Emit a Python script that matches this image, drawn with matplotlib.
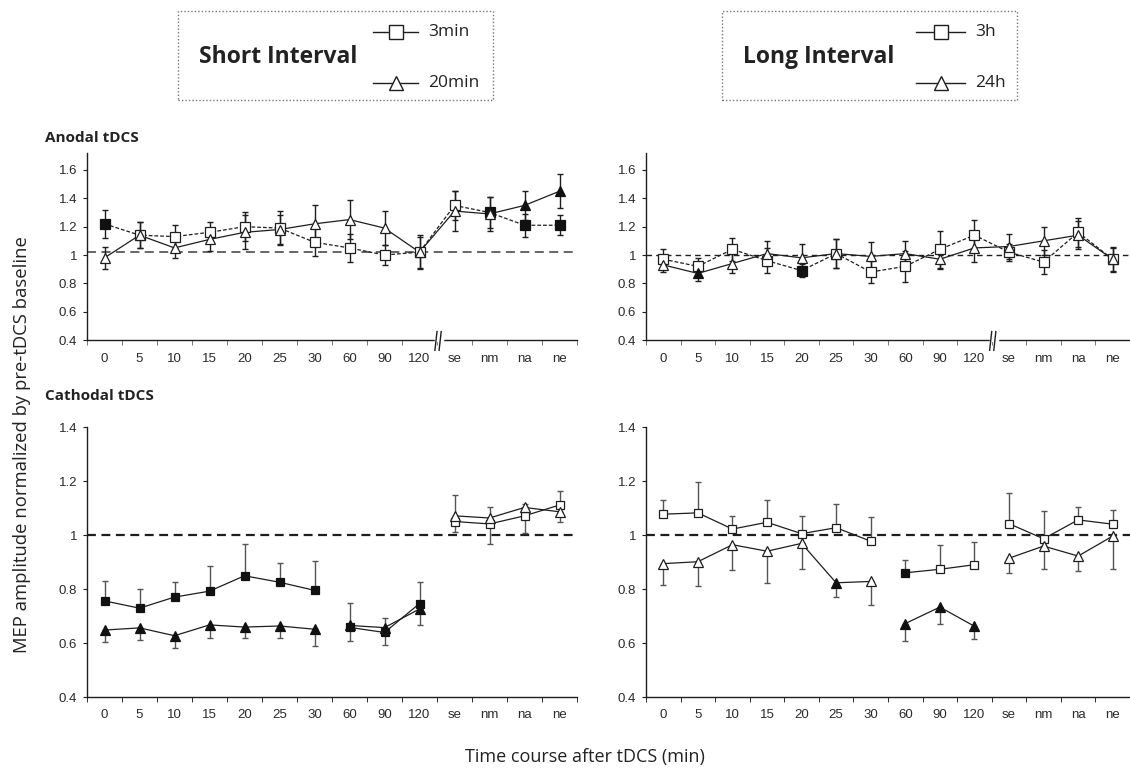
import numpy as np
import matplotlib
matplotlib.use('Agg')
import matplotlib.pyplot as plt
from matplotlib.patches import Rectangle
from matplotlib.lines import Line2D

plt.rcParams['font.family'] = ['Liberation Sans', 'DejaVu Sans']

W, H = 1130, 769

categories = ['0', '5', '10', '15', '20', '25', '30', '60', '90', '120', 'se', 'nm', 'na', 'ne']

# --- anodal, short interval (3min = squares, 20min = triangles)
al_sq = [1.22, 1.14, 1.13, 1.16, 1.20, 1.19, 1.09, 1.05, 1.00, 1.02, 1.35, 1.30, 1.21, 1.21]
al_sq_err = [0.10, 0.09, 0.08, 0.07, 0.10, 0.12, 0.10, 0.10, 0.07, 0.12, 0.10, 0.11, 0.08, 0.07]
al_sq_fill = [1, 0, 0, 0, 0, 0, 0, 0, 0, 0, 0, 1, 1, 1]
al_tri = [0.98, 1.14, 1.05, 1.11, 1.16, 1.18, 1.22, 1.25, 1.19, 1.02, 1.31, 1.29, 1.35, 1.45]
al_tri_err = [0.08, 0.09, 0.07, 0.08, 0.12, 0.10, 0.13, 0.14, 0.12, 0.11, 0.14, 0.12, 0.10, 0.12]
al_tri_fill = [0, 0, 0, 0, 0, 0, 0, 0, 0, 0, 0, 0, 1, 1]

# --- anodal, long interval (3h = squares, 24h = triangles)
ar_sq = [0.97, 0.92, 1.04, 0.96, 0.89, 1.01, 0.88, 0.92, 1.04, 1.14, 1.02, 0.95, 1.16, 0.97]
ar_sq_err = [0.07, 0.06, 0.08, 0.09, 0.045, 0.10, 0.08, 0.11, 0.13, 0.11, 0.06, 0.085, 0.10, 0.08]
ar_sq_fill = [0, 0, 0, 0, 1, 0, 0, 0, 0, 0, 0, 0, 0, 0]
ar_tri = [0.93, 0.87, 0.94, 1.01, 0.98, 1.01, 0.99, 1.01, 0.97, 1.05, 1.06, 1.10, 1.14, 0.97]
ar_tri_err = [0.05, 0.05, 0.07, 0.09, 0.10, 0.10, 0.10, 0.09, 0.07, 0.10, 0.09, 0.10, 0.10, 0.09]
ar_tri_fill = [0, 1, 0, 0, 0, 0, 0, 0, 0, 0, 0, 0, 0, 0]

# --- cathodal, short interval
cl_sq = [0.756, 0.729, 0.770, 0.792, 0.849, 0.825, 0.795, 0.658, 0.639, 0.746, 1.050, 1.041, 1.071, 1.111]
cl_sq_up = [0.074, 0.071, 0.056, 0.095, 0.117, 0.070, 0.109, 0.090, 0.053, 0.080, 0, 0, 0, 0.052]
cl_sq_dn = [0, 0, 0, 0, 0, 0, 0, 0, 0, 0, 0.039, 0.076, 0.064, 0]
cl_sq_fill = [1, 1, 1, 1, 1, 1, 1, 1, 1, 1, 0, 0, 0, 0]
cl_tri = [0.648, 0.656, 0.627, 0.667, 0.659, 0.663, 0.651, 0.665, 0.657, 0.726, 1.071, 1.063, 1.102, 1.086]
cl_tri_up = [0, 0, 0, 0, 0, 0, 0, 0, 0, 0, 0.077, 0.041, 0.014, 0]
cl_tri_dn = [0.046, 0.045, 0.044, 0.050, 0.042, 0.044, 0.063, 0.058, 0.065, 0.058, 0, 0, 0, 0.039]
cl_tri_fill = [1, 1, 1, 1, 1, 1, 1, 1, 1, 1, 0, 0, 0, 0]

# --- cathodal, long interval
cr_sq = [1.077, 1.082, 1.022, 1.047, 1.005, 1.027, 0.977, 0.860, 0.873, 0.890, 1.042, 0.986, 1.056, 1.040]
cr_sq_up = [0.054, 0.114, 0.049, 0.081, 0.066, 0.089, 0.090, 0.046, 0.089, 0.084, 0.114, 0.104, 0.048, 0.053]
cr_sq_fill = [0, 0, 0, 0, 0, 0, 0, 1, 0, 0, 0, 0, 0, 0]
cr_tri = [0.894, 0.901, 0.964, 0.940, 0.969, 0.823, 0.828, 0.672, 0.733, 0.662, 0.914, 0.959, 0.922, 0.996]
cr_tri_dn = [0.078, 0.091, 0.094, 0.116, 0.094, 0.054, 0.089, 0.065, 0.062, 0.049, 0.055, 0.084, 0.056, 0.121]
cr_tri_fill = [0, 0, 0, 0, 0, 1, 0, 1, 1, 1, 0, 0, 0, 0]

zeros = [0] * len(categories)
cath_segments = [(0, 6), (7, 9), (10, 13)]
full_segment = [(0, 13)]

top_ticks = [0.4, 0.6, 0.8, 1.0, 1.2, 1.4, 1.6]
top_ticklabels = ['0.4', '0.6', '0.8', '1', '1.2', '1.4', '1.6']
bot_ticks = [0.4, 0.6, 0.8, 1.0, 1.2, 1.4]
bot_ticklabels = ['0.4', '0.6', '0.8', '1', '1.2', '1.4']

INK = '#1e1e1e'
fig = plt.figure(figsize=(W / 100, H / 100), dpi=100)


def fx(px):
    return px / W


def fy(py):
    return 1 - py / H


def make_axes(x0, x1, y0, y1, ylim, ticks, labels, xtick_color):
    ax = fig.add_axes([fx(x0), fy(y1), fx(x1 - x0), (y1 - y0) / H])
    ax.set_xlim(-0.5, len(categories) - 0.5)
    ax.set_ylim(*ylim)
    for s in ['top', 'right']:
        ax.spines[s].set_visible(False)
    for s in ['left', 'bottom']:
        ax.spines[s].set_color(INK)
        ax.spines[s].set_linewidth(1.0)
    ax.set_yticks(ticks)
    ax.set_yticklabels(labels)
    ax.set_xticks(np.arange(-0.5, len(categories), 1.0))
    ax.set_xticklabels([])
    ax.set_xticks(np.arange(len(categories)), minor=True)
    ax.set_xticklabels(categories, minor=True)
    ax.tick_params(axis='y', length=3, width=0.8, color=INK, pad=4,
                   labelsize=9.5, labelcolor='#2a2a2a')
    ax.tick_params(axis='x', which='major', length=3.5, width=0.7, color=xtick_color)
    ax.tick_params(axis='x', which='minor', length=0, pad=9,
                   labelsize=9.5, labelcolor='#2a2a2a')
    return ax


def draw_series(ax, y, up, dn, fill, marker, ls, segments, ms, ecolor, capsize):
    x = np.arange(len(y))
    y = np.asarray(y, float)
    f = np.asarray(fill, bool)
    ax.errorbar(x, y, yerr=[dn, up], fmt='none', ecolor=ecolor, elinewidth=1.0,
                capsize=capsize, capthick=1.0, zorder=2)
    for a, b in segments:
        ax.plot(x[a:b + 1], y[a:b + 1], ls=ls, color=INK, lw=0.9, zorder=3)
    ax.plot(x[~f], y[~f], ls='none', marker=marker, ms=ms, mfc='white',
            mec=INK, mew=0.9, zorder=4)
    ax.plot(x[f], y[f], ls='none', marker=marker, ms=ms, mfc='#111',
            mec='#111', mew=0.9, zorder=4)


def axis_break(ax, pos):
    tr = ax.get_xaxis_transform()
    ax.plot([pos - 0.02, pos + 0.14], [0, 0], color='white', lw=2.5,
            transform=tr, clip_on=False, zorder=5)
    for dx in (-0.03, 0.09):
        ax.plot([pos + dx - 0.03, pos + dx + 0.03], [-0.055, 0.045], color=INK,
                lw=1.0, transform=tr, clip_on=False, zorder=6)


short_dash = (0, (3, 1.6))

# anodal short
ax1 = make_axes(87, 577, 153, 340, (0.4, 1.72), top_ticks, top_ticklabels, '#777')
ax1.axhline(1.02, color='#5a5a5a', lw=1.3, ls=(0, (5, 3)), zorder=1)
draw_series(ax1, al_sq, al_sq_err, al_sq_err, al_sq_fill, 's', short_dash,
            full_segment, 6.5, INK, 2.5)
draw_series(ax1, al_tri, al_tri_err, al_tri_err, al_tri_fill, '^', '-',
            full_segment, 7.5, INK, 2.5)
axis_break(ax1, 9.5)

# anodal long
ax2 = make_axes(646, 1130, 153, 340, (0.4, 1.72), top_ticks, top_ticklabels, '#777')
ax2.axhline(1.0, color=INK, lw=1.0, ls=(0, (4, 3)), zorder=1)
draw_series(ax2, ar_sq, ar_sq_err, ar_sq_err, ar_sq_fill, 's', short_dash,
            full_segment, 6.5, INK, 2.5)
draw_series(ax2, ar_tri, ar_tri_err, ar_tri_err, ar_tri_fill, '^', '-',
            full_segment, 7.5, INK, 2.5)
axis_break(ax2, 9.5)

# cathodal short
ax3 = make_axes(87, 577, 427, 697, (0.4, 1.4), bot_ticks, bot_ticklabels, '#333')
ax3.axhline(1.0, color=INK, lw=1.6, ls=(0, (4, 2.5)), zorder=1)
draw_series(ax3, cl_sq, cl_sq_up, cl_sq_dn, cl_sq_fill, 's', '-',
            cath_segments, 6, '#555', 2.5)
draw_series(ax3, cl_tri, cl_tri_up, cl_tri_dn, cl_tri_fill, '^', '-',
            cath_segments, 6.5, '#555', 2.5)

# cathodal long
ax4 = make_axes(646, 1130, 427, 697, (0.4, 1.4), bot_ticks, bot_ticklabels, '#333')
ax4.axhline(1.0, color=INK, lw=1.6, ls=(0, (4, 2.5)), zorder=1)
draw_series(ax4, cr_sq, cr_sq_up, zeros, cr_sq_fill, 's', '-',
            cath_segments, 6, '#555', 2.5)
draw_series(ax4, cr_tri, zeros, cr_tri_dn, cr_tri_fill, '^', '-',
            cath_segments, 6.5, '#555', 2.5)

# panel titles and axis labels
lab_font = ['Open Sans', 'DejaVu Sans']
fig.text(fx(45), fy(138), 'Anodal tDCS', family=lab_font, weight='bold',
         fontsize=11, va='center', ha='left', color='#222')
fig.text(fx(45), fy(396), 'Cathodal tDCS', family=lab_font, weight='bold',
         fontsize=11, va='center', ha='left', color='#222')
fig.text(fx(22), fy(445), 'MEP amplitude normalized by pre-tDCS baseline',
         family=lab_font, fontsize=13.3, rotation=90, va='center', ha='center',
         color='#222')
fig.text(fx(585), fy(757), 'Time course after tDCS (min)', family=lab_font,
         fontsize=13, va='center', ha='center', color='#222')

# legend boxes
boxes = [
    (178, 493, 'Short Interval', 278, ['3min', '20min'], 373, 418),
    (722, 1017, 'Long Interval', 819, ['3h', '24h'], 916, 965),
]
for bx0, bx1, title, tx, names, lx0, lx1 in boxes:
    fig.add_artist(Rectangle((fx(bx0), fy(100)), fx(bx1 - bx0), (100 - 11) / H,
                             transform=fig.transFigure, fill=False,
                             ec='#777', lw=1.0, ls=(0, (1, 1.5))))
    fig.text(fx(tx), fy(57), title, family=lab_font, weight='bold',
             fontsize=16.5, va='center', ha='center', color='#222')
    for (name, marker, ms), ly in zip(zip(names, ['s', '^'], [9.5, 10.5]), [32, 83]):
        fig.add_artist(Line2D([fx(lx0), fx(lx1)], [fy(ly), fy(ly)],
                              transform=fig.transFigure, color=INK, lw=1.0))
        fig.add_artist(Line2D([fx((lx0 + lx1) / 2)], [fy(ly)], transform=fig.transFigure,
                              marker=marker, ms=ms, mfc='white', mec=INK, mew=1.0))
        fig.text(fx(lx1 + 10), fy(ly), name, family=lab_font, fontsize=12.5,
                 va='center', ha='left', color='#222')

fig.savefig('out.png', dpi=100)
